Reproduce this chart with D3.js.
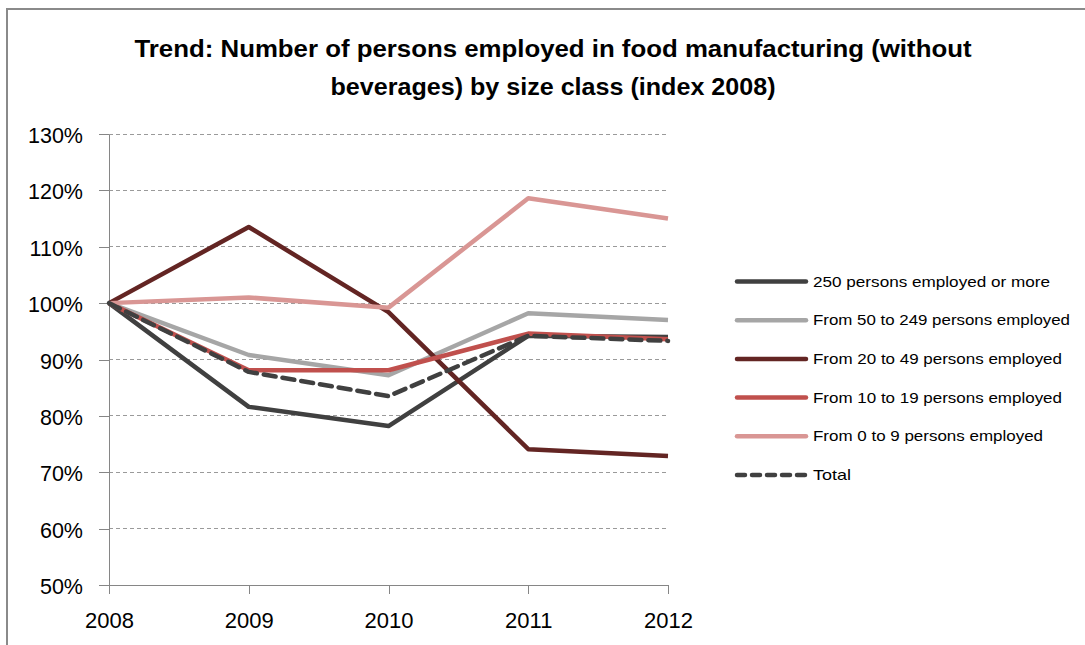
<!DOCTYPE html>
<html>
<head>
<meta charset="utf-8">
<script src="https://cdn.jsdelivr.net/npm/d3@7"></script>
<style>
  html, body { margin: 0; padding: 0; background: #fff; }
  svg { display: block; }
  text { font-family: "Liberation Sans", Arial, sans-serif; fill: #000; }
</style>
</head>
<body>
<svg id="chart" width="1085" height="645"></svg>
<script>
// Employment index by enterprise size class (2008 = 100%)
const years = ["2008", "2009", "2010", "2011", "2012"];
const yTicks = [50, 60, 70, 80, 90, 100, 110, 120, 130];

const seriesNames = [
  "250 persons employed or more",
  "From 50 to 249 persons employed",
  "From 20 to 49 persons employed",
  "From 10 to 19 persons employed",
  "From 0 to 9 persons employed",
  "Total"
];
const size250plus = [100, 81.6, 78.2, 94.2, 94.0];
const size50to249 = [100, 90.8, 87.2, 98.2, 97.0];
const size20to49  = [100, 113.5, 98.4, 74.1, 72.9];
const size10to19  = [100, 88.1, 88.1, 94.6, 93.6];
const size0to9    = [100, 101.0, 99.2, 118.6, 115.0];
const total       = [100, 87.8, 83.5, 94.2, 93.3];

const seriesColors = ["#404040", "#a6a6a6", "#632523", "#c0504d", "#d99694", "#404040"];
const seriesDash   = [null, null, null, null, null, "12,7"];
const seriesValues = [size250plus, size50to249, size20to49, size10to19, size0to9, total];

const svg = d3.select("#chart");

// outer chart frame
svg.append("path")
  .attr("d", "M7,645 V9 H1085")
  .attr("fill", "none")
  .attr("stroke", "#8a8a8a")
  .attr("stroke-width", 2);

// title
const title = svg.append("g").attr("font-weight", "bold").attr("font-size", 23);
title.append("text")
  .attr("x", 553).attr("y", 57)
  .attr("text-anchor", "middle")
  .attr("textLength", 837).attr("lengthAdjust", "spacingAndGlyphs")
  .text("Trend: Number of persons employed in food manufacturing (without");
title.append("text")
  .attr("x", 553).attr("y", 95)
  .attr("text-anchor", "middle")
  .attr("textLength", 445).attr("lengthAdjust", "spacingAndGlyphs")
  .text("beverages) by size class (index 2008)");

const x = d3.scalePoint().domain(years).range([109, 668]);
const y = d3.scaleLinear().domain([50, 130]).range([585, 134]);

// horizontal gridlines
svg.append("g")
  .selectAll("line")
  .data(yTicks.filter(t => t > 50))
  .join("line")
  .attr("x1", 109).attr("x2", 668)
  .attr("y1", d => y(d)).attr("y2", d => y(d))
  .attr("stroke", "#9a9a9a")
  .attr("stroke-width", 1)
  .attr("stroke-dasharray", "4,3")
  .attr("shape-rendering", "crispEdges");

// y axis
const yAxis = svg.append("g")
  .attr("transform", "translate(109,0)")
  .call(d3.axisLeft(y).tickValues(yTicks).tickSize(10).tickSizeOuter(0).tickPadding(16).tickFormat(d => d + "%"));
yAxis.select(".domain").attr("stroke", "#868686").attr("shape-rendering", "crispEdges");
yAxis.selectAll(".tick line").attr("stroke", "#868686").attr("shape-rendering", "crispEdges");
yAxis.selectAll(".tick text")
  .attr("font-size", 21.5)
  .attr("font-family", "\"Liberation Sans\", Arial, sans-serif")
  .attr("fill", "#000")
  .attr("dy", "0.4em");

// x axis
const xAxis = svg.append("g")
  .attr("transform", "translate(0,585)")
  .call(d3.axisBottom(x).tickSize(9).tickSizeOuter(0).tickPadding(18));
xAxis.select(".domain").attr("stroke", "#868686").attr("shape-rendering", "crispEdges");
xAxis.selectAll(".tick line").attr("stroke", "#868686").attr("shape-rendering", "crispEdges");
xAxis.selectAll(".tick text")
  .attr("font-size", 22)
  .attr("font-family", "\"Liberation Sans\", Arial, sans-serif")
  .attr("fill", "#000");

// series lines
const line = d3.line()
  .x((d, i) => x(years[i]))
  .y(d => y(d));

svg.append("g")
  .selectAll("path")
  .data(seriesValues)
  .join("path")
  .attr("d", d => line(d))
  .attr("fill", "none")
  .attr("stroke", (d, i) => seriesColors[i])
  .attr("stroke-width", 4.5)
  .attr("stroke-linejoin", "round")
  .attr("stroke-linecap", (d, i) => seriesDash[i] ? "round" : "butt")
  .attr("stroke-dasharray", (d, i) => seriesDash[i]);

// legend
const legendLens = [237, 257, 249, 249, 230, 38];
const legend = svg.append("g");
const items = legend.selectAll("g")
  .data(seriesNames)
  .join("g")
  .attr("transform", (d, i) => `translate(737,${281.5 + i * 38.7})`);
items.append("line")
  .attr("x1", 0).attr("x2", 69)
  .attr("stroke", (d, i) => seriesColors[i])
  .attr("stroke-width", 4.5)
  .attr("stroke-linecap", "round")
  .attr("stroke-dasharray", (d, i) => seriesDash[i] ? "8,7" : null);
items.append("text")
  .attr("x", 76).attr("y", 0)
  .attr("dy", "0.35em")
  .attr("font-size", 14.5)
  .attr("textLength", (d, i) => legendLens[i])
  .attr("lengthAdjust", "spacingAndGlyphs")
  .text(d => d);
</script>
</body>
</html>
